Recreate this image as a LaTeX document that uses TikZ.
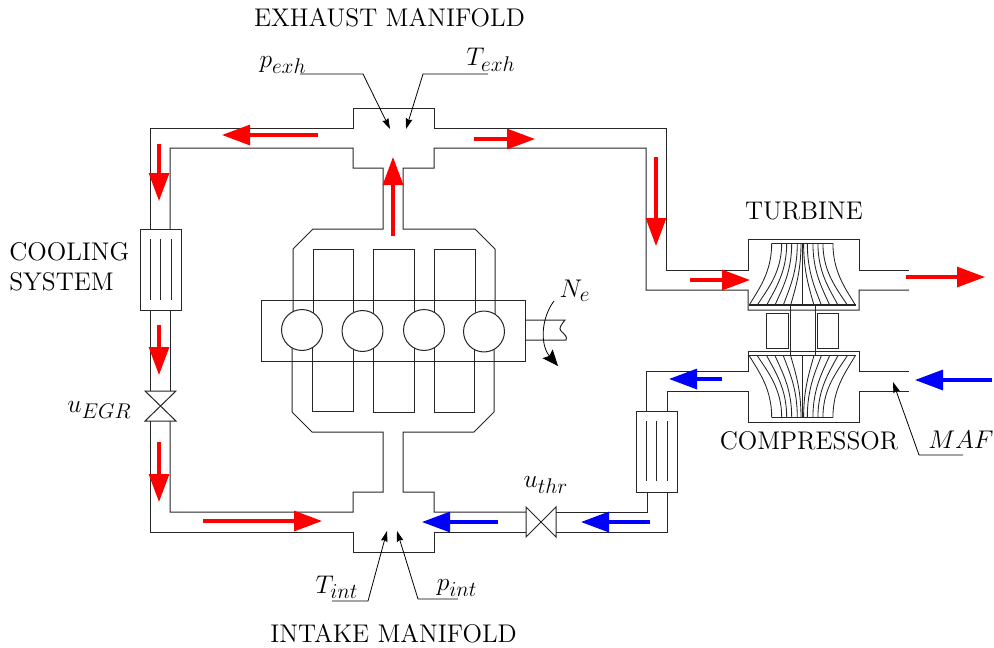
\documentclass[tikz,border=0pt]{standalone}
\usetikzlibrary{arrows.meta}
\DeclareMathSizes{14.4}{14.4}{12}{8}
\tikzset{
  pipe/.style={line width=0.75pt,black!85,line join=miter},
  redflow/.style={red,line width=2.3pt,-{Triangle[length=21pt,width=15pt]}},
  blueflow/.style={blue,line width=2.3pt,-{Triangle[length=21pt,width=15pt]}},
  leader/.style={line width=0.6pt,black,-{Stealth[length=8pt,width=5pt,inset=1pt]}},
  lab/.style={inner sep=0pt,scale=1.33,font=\fontsize{14.4}{17}\selectfont},
}
\newcommand{\rotorblades}{%
  \draw[pipe] (771.7,243) -- (832.9,243);
  \draw[pipe,line width=0.9pt] (749,305) -- (855.6,305);
  \draw[pipe] (802.3,243) -- (802.3,305);
  \foreach \xt/\xb in {771.7/749.3,781.7/757.3,786.7/766.7,791.7/775,797.3/783.3,801/790.7}{
    \draw[pipe,line width=0.65pt] (\xt,243) .. controls (\xt,272) and ({\xb+0.45*(\xt-\xb)},288) .. (\xb,305);
    \draw[pipe,line width=0.65pt] ({1604.6-\xt},243) .. controls ({1604.6-\xt},272) and ({1604.6-\xb-0.45*(\xt-\xb)},288) .. ({1604.6-\xb},305);
  }%
}
\begin{document}
\begin{tikzpicture}[x=0.75pt,y=-0.75pt]
\useasboundingbox (0,0) rectangle (994,647);
% exhaust manifold and pipes
\draw[pipe] (150,229) -- (150,128) -- (353,128) -- (353,108) -- (434,108) -- (434,128) -- (666,128) -- (666,270) -- (748,270) -- (748,239) -- (859,239) -- (859,270) -- (909,270);
\draw[pipe] (170,229) -- (170,148) -- (353,148) -- (353,168) -- (383,168) -- (383,229) -- (313,229) -- (293,249) -- (293,330);
\draw[pipe] (495,330) -- (495,249) -- (475,229) -- (403,229) -- (403,168) -- (434,168) -- (434,148) -- (646,148) -- (646,290) -- (748,290) -- (748,310) -- (859,310) -- (859,290) -- (909,290);
% cooling system
\draw[pipe] (140,229) rectangle (181,310);
\foreach \x in {150,160,171} \draw[pipe] (\x,239) -- (\x,300);
\draw[pipe] (150,310) -- (150,391);
\draw[pipe] (170,310) -- (170,391);
\draw[pipe] (145,391) -- (176,391) -- (145,421) -- (176,421) -- cycle;
% intake
\draw[pipe] (150,421) -- (150,532) -- (353,532) -- (353,552) -- (434,552) -- (434,532) -- (526,532);
\draw[pipe] (170,421) -- (170,512) -- (353,512) -- (353,492) -- (383,492) -- (383,432) -- (312,432) -- (292,412) -- (292,331);
\draw[pipe] (494,331) -- (494,412) -- (474,432) -- (403,432) -- (403,492) -- (434,492) -- (434,512) -- (526,512);
% throttle
\draw[pipe] (526,507) -- (526,537) -- (556,507) -- (556,537) -- cycle;
\draw[pipe] (556,512) -- (647,512) -- (647,492);
\draw[pipe] (556,532) -- (667,532) -- (667,492);
% intercooler
\draw[pipe] (636,411) rectangle (677,492);
\foreach \x in {646,656,667} \draw[pipe] (\x,421) -- (\x,481);
\draw[pipe] (646,411) -- (646,371) -- (748,371) -- (748,351) -- (859,351) -- (859,371) -- (909,371);
\draw[pipe] (667,411) -- (667,391) -- (748,391) -- (748,422) -- (859,422) -- (859,391) -- (909,391);
% turbocharger
\rotorblades
\begin{scope}[shift={(0,660.7)},yscale=-1]
\rotorblades
\end{scope}
\draw[pipe] (790,305) -- (790,356);
\draw[pipe] (815,305) -- (815,356);
\draw[pipe] (766,313) rectangle (788,348);
\draw[pipe] (817,313) rectangle (838,348);
% engine
\draw[pipe] (261,300) rectangle (525,361);
\draw[pipe] (313,330) -- (313,249) -- (353,249) -- (353,330);
\draw[pipe] (373,330) -- (373,249) -- (414,249) -- (414,330);
\draw[pipe] (434,330) -- (434,249) -- (475,249) -- (475,330);
\draw[pipe] (312,331) -- (312,411.5) -- (353,411.5) -- (353,331);
\draw[pipe] (373,331) -- (373,412) -- (414,412) -- (414,331);
\draw[pipe] (434,331) -- (434,412) -- (474,412) -- (474,331);
\foreach \n/\x/\y in {1/302/330,2/362.5/331,3/424/330,4/484/331.5}
  \node[pipe,draw,fill=white,circle,inner sep=0pt,minimum size=30.7pt] (cyl\n) at (\x,\y) {};
% shaft
\draw[pipe] (525,320) -- (565,320) .. controls (562,324) and (558,328) .. (561,331) .. controls (564,334) and (568,337) .. (566,340) -- (525,340);
\draw[line width=0.6pt,-{Stealth[length=12pt,width=10pt,inset=2pt]}] (554,301) .. controls (541,318) and (540,345) .. (558,366);
% leaders
\draw[leader] (300,74) -- (363,74) -- (390,129);
\draw[leader] (488,74) -- (423,74) -- (406,129);
\draw[leader] (332,601) -- (368,601) -- (387,531);
\draw[leader] (458,599) -- (418,599) -- (397,531);
\draw[leader] (963,455) -- (919,455) -- (893,382);
% flows
\draw[redflow] (318,135) -- (222,135);
\draw[redflow] (474,139) -- (535,139);
\draw[redflow] (159,144) -- (159,201);
\draw[redflow] (159,325) -- (159,375);
\draw[redflow] (159,442) -- (159,502);
\draw[redflow] (203,521) -- (322,521);
\draw[redflow] (393,236) -- (393,157);
\draw[redflow] (656,157) -- (656,246);
\draw[redflow] (690,280) -- (750,280);
\draw[redflow] (906,277) -- (985,277);
\draw[blueflow] (722,379) -- (669,379);
\draw[blueflow] (992,380) -- (915,380);
\draw[blueflow] (498,522) -- (422,522);
\draw[blueflow] (650,522) -- (581,522);
% labels
\node[lab] (lexh) at (389.5,18) {EXHAUST MANIFOLD};
\node[lab] (lint) at (393.5,634) {INTAKE MANIFOLD};
\node[lab] (lturb) at (804,211) {TURBINE};
\node[lab] (lcomp) at (809,441) {COMPRESSOR};
\node[lab,anchor=west,align=left] (lcool) at (9,267) {COOLING\\SYSTEM};
\node[lab] (legr) at (99.5,410) {$u_{EGR}$};
\node[lab] (lthr) at (546,485) {$u_{thr}$};
\node[lab] (lne) at (575,291) {$N_e$};
\node[lab] (lpe) at (283,65) {$p_{exh}$};
\node[lab] (lte) at (491,60) {$T_{exh}$};
\node[lab] (lti) at (337,587) {$T_{int}$};
\node[lab] (lpi) at (457,588) {$p_{int}$};
\node[lab] (lmaf) at (961,440) {$MAF$};
\end{tikzpicture}
\end{document}
